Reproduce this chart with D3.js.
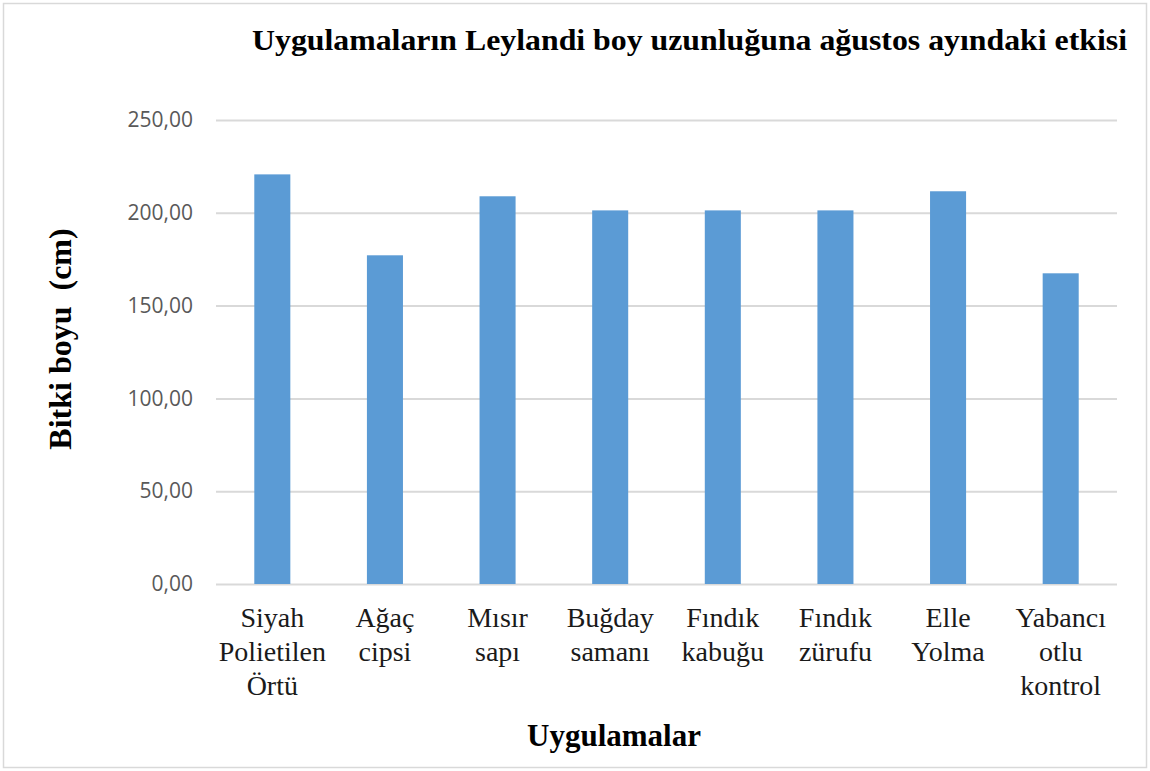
<!DOCTYPE html>
<html>
<head>
<meta charset="utf-8">
<script src="https://cdn.jsdelivr.net/npm/d3@7"></script>
<style>
  html, body { margin: 0; padding: 0; background: #fff; }
  svg { display: block; }
</style>
</head>
<body>
<svg id="chart" width="1150" height="771"></svg>
<script>
// ── data ──────────────────────────────────────────────────────────────────────
const categories = [
  ['Siyah', 'Polietilen', 'Örtü'],
  ['Ağaç', 'cipsi'],
  ['Mısır', 'sapı'],
  ['Buğday', 'samanı'],
  ['Fındık', 'kabuğu'],
  ['Fındık', 'zürufu'],
  ['Elle', 'Yolma'],
  ['Yabancı', 'otlu', 'kontrol']
];
const values = [220.7, 177.1, 208.9, 201.3, 201.3, 201.3, 211.6, 167.4];
const yTicks = [0, 50, 100, 150, 200, 250];

// ── layout ────────────────────────────────────────────────────────────────────
const svg = d3.select('#chart');
const margin = { left: 216, right: 33, top: 120, bottom: 187 };
const width  = 1150 - margin.left - margin.right;
const height = 771 - margin.top - margin.bottom;

// chart border
svg.append('rect')
  .attr('x', 3.5).attr('y', 3.5)
  .attr('width', 1150 - 7).attr('height', 771 - 7)
  .attr('fill', 'none')
  .attr('stroke', '#d9d9d9')
  .attr('stroke-width', 1.5);

const g = svg.append('g').attr('transform', `translate(${margin.left},${margin.top})`);

const x = d3.scaleBand()
  .domain(d3.range(categories.length))
  .range([0, width])
  .paddingInner(0.68)
  .paddingOuter(0.34);

const y = d3.scaleLinear().domain([0, 250]).range([height, 0]);

const fmt = v => d3.format('.2f')(v).replace('.', ',');

// ── gridlines + y axis labels ────────────────────────────────────────────────
const yAxis = g.append('g')
  .call(d3.axisLeft(y).tickValues(yTicks).tickSize(-width).tickFormat(fmt).tickPadding(23));
yAxis.select('.domain').remove();
yAxis.selectAll('.tick line')
  .attr('stroke', '#d9d9d9')
  .attr('stroke-width', 2);
yAxis.selectAll('.tick text')
  .attr('fill', '#595959')
  .attr('font-family', 'Open Sans, Liberation Sans, sans-serif')
  .attr('font-size', '21px');

// ── bars ──────────────────────────────────────────────────────────────────────
g.selectAll('.bar')
  .data(values)
  .join('rect')
  .attr('class', 'bar')
  .attr('x', (d, i) => x(i))
  .attr('y', d => y(d))
  .attr('width', x.bandwidth())
  .attr('height', d => height - y(d))
  .attr('fill', '#5b9bd5');

// ── x category labels ─────────────────────────────────────────────────────────
const xLabels = g.selectAll('.xlab')
  .data(categories)
  .join('text')
  .attr('class', 'xlab')
  .attr('text-anchor', 'middle')
  .attr('font-family', 'Liberation Serif, Times New Roman, serif')
  .attr('font-size', '28px')
  .attr('fill', '#1a1a1a');
xLabels.each(function(lines, i) {
  d3.select(this).selectAll('tspan')
    .data(lines)
    .join('tspan')
    .attr('x', x(i) + x.bandwidth() / 2)
    .attr('y', (d, j) => height + 43 + j * 34)
    .text(d => d);
});

// ── titles ────────────────────────────────────────────────────────────────────
svg.append('text')
  .attr('x', 252).attr('y', 50)
  .attr('font-family', 'Liberation Serif, Times New Roman, serif')
  .attr('font-weight', 'bold')
  .attr('font-size', '30px')
  .attr('fill', '#000')
  .attr('textLength', 875)
  .attr('lengthAdjust', 'spacingAndGlyphs')
  .text('Uygulamaların Leylandi boy uzunluğuna ağustos ayındaki etkisi');

svg.append('text')
  .attr('x', 614).attr('y', 746)
  .attr('text-anchor', 'middle')
  .attr('font-family', 'Liberation Serif, Times New Roman, serif')
  .attr('font-weight', 'bold')
  .attr('font-size', '31px')
  .attr('fill', '#000')
  .text('Uygulamalar');

svg.append('text')
  .attr('transform', 'translate(71,339) rotate(-90)')
  .attr('text-anchor', 'middle')
  .attr('font-family', 'Liberation Serif, Times New Roman, serif')
  .attr('font-weight', 'bold')
  .attr('font-size', '32px')
  .attr('fill', '#000')
  .attr('xml:space', 'preserve')
  .text('Bitki boyu  (cm)');
</script>
</body>
</html>
